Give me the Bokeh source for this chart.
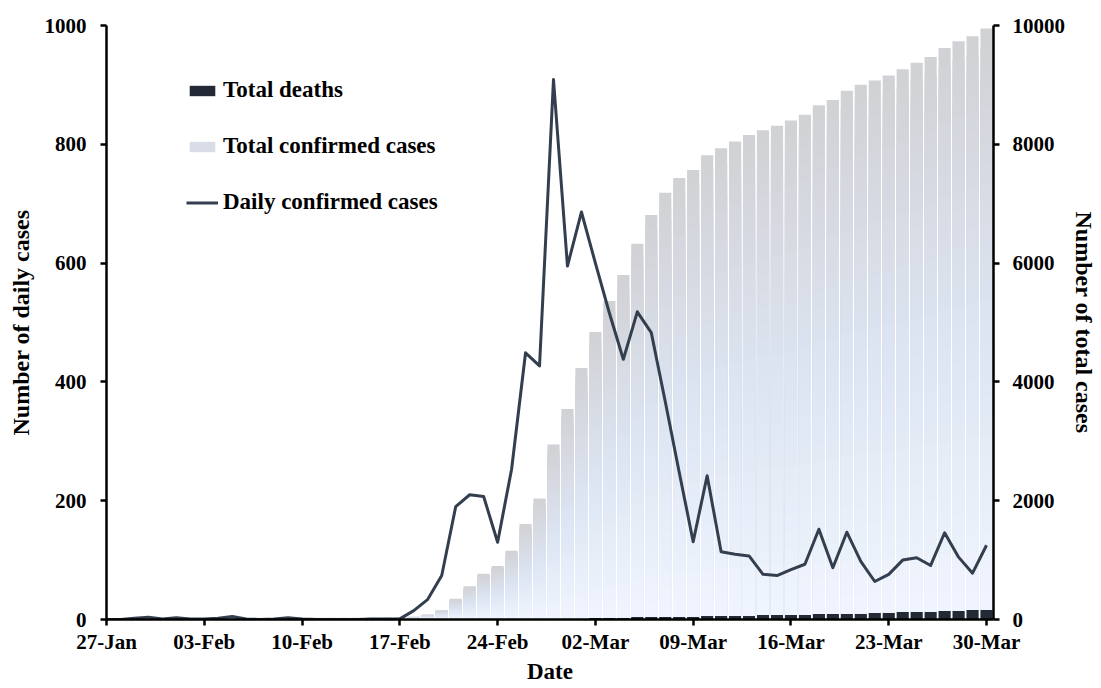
import numpy as np
from bokeh.plotting import figure
from bokeh.models import Range1d, LinearAxis, FixedTicker, Legend, LegendItem, ColumnDataSource
from bokeh.embed import file_html
from bokeh.resources import INLINE

# ---------------- data ----------------
tick_days = [0, 7, 14, 21, 28, 35, 42, 49, 56, 63]
tick_labels = ["27-Jan", "03-Feb", "10-Feb", "17-Feb", "24-Feb",
               "02-Mar", "09-Mar", "16-Mar", "23-Mar", "30-Mar"]

daily_cases = [0, 0, 2, 4, 1, 3, 1, 1, 2, 5, 1, 0, 1, 3, 1, 0, 0, 0, 0, 1, 1, 1,
               15, 34, 74, 190, 210, 207, 130, 253, 449, 427,
               909, 595, 686, 600, 516, 438, 518, 483, 367, 248,
               131, 242, 114, 110, 107, 76, 74, 84, 93, 152,
               87, 147, 98, 64, 76, 100, 104, 91, 146, 105, 78, 125]

total_confirmed = [4, 4, 6, 10, 11, 14, 15, 16, 18, 23, 24, 24, 25, 28, 28, 28, 28, 28, 28, 29, 30, 31,
                   46, 82, 156, 346, 556, 763, 893, 1146, 1595, 2022,
                   2931, 3526, 4212, 4812, 5328, 5766, 6284, 6767, 7134, 7382,
                   7513, 7755, 7869, 7979, 8086, 8162, 8236, 8320, 8413, 8565,
                   8652, 8799, 8897, 8961, 9037, 9137, 9241, 9332, 9478, 9583, 9661, 9786]

total_deaths = [0] * 23 + [1, 1, 2, 2, 6, 8, 11, 12, 13, 16, 17, 22, 28, 32, 35, 42, 44, 50, 51,
                           54, 60, 66, 67, 72, 75, 75, 81, 84, 91, 94, 102, 104, 111, 120,
                           126, 131, 139, 144, 152, 158, 162]

days = list(range(len(daily_cases)))

FONT = "Liberation Serif"
TICK_FS = "21px"
LABEL_FS = "24px"

p = figure(width=1100, height=686, x_range=Range1d(0, 63.5), y_range=Range1d(0, 1000),
           output_backend="svg", toolbar_location=None,
           min_border_left=106, min_border_right=107, min_border_top=25, min_border_bottom=67)
p.extra_y_ranges = {"total": Range1d(0, 10000)}
p.outline_line_color = None
p.xgrid.visible = False
p.ygrid.visible = False
p.background_fill_color = "white"

# ---------------- stacked bars (deaths + gradient confirmed) ----------------
deaths_r = p.vbar(x=days, bottom=0, top=total_deaths, width=0.87, y_range_name="total",
                  fill_color="#232a35", line_color=None)

stops_t = [0.0, 0.5, 1.0]
stops_c = [np.array([209, 209, 212]), np.array([220, 228, 242]), np.array([240, 245, 254])]

def grad(t):
    r = [np.interp(t, stops_t, [c[i] for c in stops_c]) for i in range(3)]
    return "#%02x%02x%02x" % tuple(int(round(v)) for v in r)

N = 30
xs, bots, tops, cols = [], [], [], []
for k in range(N):
    frac = 1 - k / N
    col = grad((k + 0.5) / N)
    for d in days:
        xs.append(d)
        bots.append(total_deaths[d])
        tops.append(total_deaths[d] + total_confirmed[d] * frac)
        cols.append(col)
src = ColumnDataSource(dict(x=xs, bottom=bots, top=tops, color=cols))
conf_r = p.vbar(x="x", bottom="bottom", top="top", width=0.87, y_range_name="total",
                fill_color="color", line_color=None, source=src)

line_r = p.line(days, daily_cases, line_width=3, line_color="#333f4f", line_join="round")

# ---------------- axes ----------------
def style_axis(ax):
    ax.axis_line_color = "black"
    ax.axis_line_width = 2.5
    ax.major_tick_line_color = "black"
    ax.major_tick_line_width = 2.5
    ax.major_tick_out = 6
    ax.major_tick_in = 0
    ax.minor_tick_line_color = None
    ax.major_label_text_font = FONT
    ax.major_label_text_font_style = "bold"
    ax.major_label_text_font_size = TICK_FS
    ax.major_label_text_color = "black"
    ax.axis_label_text_font = FONT
    ax.axis_label_text_font_style = "bold"
    ax.axis_label_text_font_size = LABEL_FS
    ax.axis_label_text_color = "black"

xa = p.xaxis[0]
style_axis(xa)
xa.ticker = FixedTicker(ticks=tick_days)
xa.major_label_overrides = {d: l for d, l in zip(tick_days, tick_labels)}
xa.axis_label = "Date"
xa.axis_label_text_font_size = "23px"
xa.major_label_standoff = 4
xa.axis_label_standoff = 2

ya = p.yaxis[0]
style_axis(ya)
ya.ticker = FixedTicker(ticks=[0, 200, 400, 600, 800, 1000])
ya.axis_label = "Number of daily cases"
ya.major_label_standoff = 14
ya.axis_label_standoff = 8

yr = LinearAxis(y_range_name="total", ticker=FixedTicker(ticks=[0, 2000, 4000, 6000, 8000, 10000]),
                axis_label="Number of total cases")
style_axis(yr)
yr.major_label_standoff = 13
yr.axis_label_standoff = 3
p.add_layout(yr, "right")

# ---------------- legend ----------------
leg_index = int(0.3 * N) * len(days) + 40
legend = Legend(items=[
    LegendItem(label="Total deaths", renderers=[deaths_r]),
    LegendItem(label="Total confirmed cases", renderers=[conf_r], index=leg_index),
    LegendItem(label="Daily confirmed cases", renderers=[line_r]),
], location=(80, 404), orientation="vertical", padding=0, margin=0, spacing=30,
    glyph_width=32, glyph_height=13, label_height=25, label_standoff=5,
    label_text_font=FONT, label_text_font_style="bold", label_text_font_size="23px",
    label_text_color="black", border_line_color=None, background_fill_alpha=0)
p.add_layout(legend)

open("out.html", "w").write(file_html(p, INLINE))
